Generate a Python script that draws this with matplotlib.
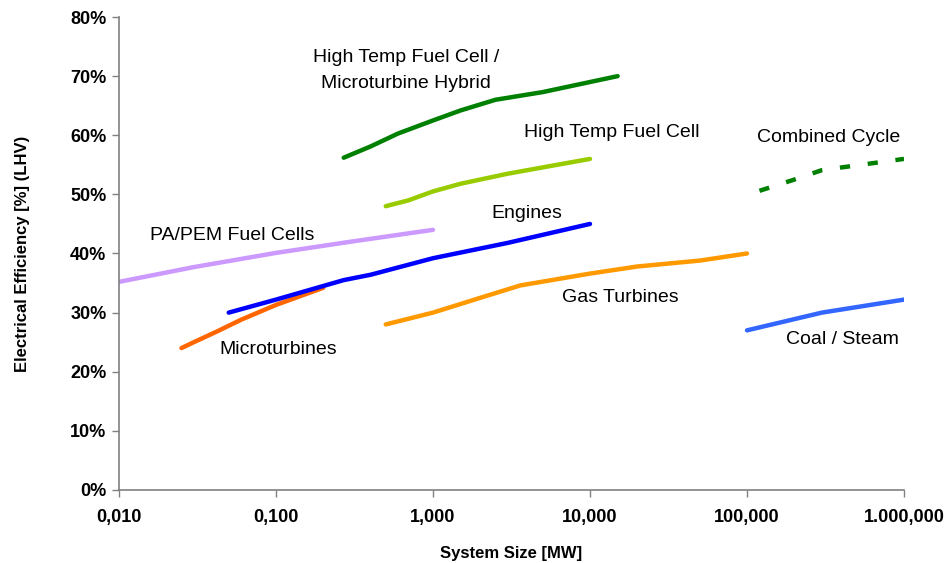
import matplotlib
matplotlib.use("Agg")
from matplotlib import pyplot as plt

plt.rcParams['font.family'] = ['Liberation Sans', 'DejaVu Sans']

# --- data (MW, % LHV) ---
pem_x = [0.01, 0.03, 0.1, 0.3, 1.0]
pem_y = [35.2, 37.7, 40.1, 42.0, 44.0]

micro_x = [0.025, 0.03, 0.042, 0.06, 0.1, 0.2]
micro_y = [24.0, 25.0, 26.8, 28.8, 31.3, 34.2]

eng_x = [0.05, 0.1, 0.27, 0.4, 1.0, 3.0, 10.0]
eng_y = [30.0, 32.2, 35.5, 36.4, 39.2, 41.8, 45.0]

gt_x = [0.5, 1.0, 2.0, 3.6, 10.0, 20.0, 50.0, 100.0]
gt_y = [28.0, 30.0, 32.5, 34.6, 36.6, 37.8, 38.8, 40.0]

htfc_x = [0.5, 0.7, 1.0, 1.5, 3.0, 10.0]
htfc_y = [48.0, 49.0, 50.5, 51.8, 53.5, 56.0]

hyb_x = [0.27, 0.4, 0.6, 1.0, 1.5, 2.5, 5.0, 15.0]
hyb_y = [56.2, 58.1, 60.3, 62.5, 64.2, 66.0, 67.3, 70.0]

cc_x = [120, 200, 300, 1000]
cc_y = [50.6, 52.5, 54.1, 56.0]

coal_x = [100, 300, 1000]
coal_y = [27.0, 30.0, 32.2]

xticks = [0.01, 0.1, 1, 10, 100, 1000]
xtick_labels = ['0,010', '0,100', '1,000', '10,000', '100,000', '1.000,000']
yticks = [0, 10, 20, 30, 40, 50, 60, 70, 80]

fig = plt.figure(figsize=(9.48, 5.63), dpi=100)
ax = fig.add_axes([0.1255, 0.1297, 0.8281, 0.8401])

lw = 3.2
ax.plot(pem_x, pem_y, color='#CC99FF', lw=lw, solid_capstyle='round')
ax.plot(micro_x, micro_y, color='#FF6600', lw=lw, solid_capstyle='round')
ax.plot(eng_x, eng_y, color='#0000FF', lw=lw, solid_capstyle='round')
ax.plot(gt_x, gt_y, color='#FF9900', lw=lw, solid_capstyle='round')
ax.plot(htfc_x, htfc_y, color='#99CC00', lw=lw, solid_capstyle='round')
ax.plot(hyb_x, hyb_y, color='#008000', lw=lw, solid_capstyle='round')
ax.plot(cc_x, cc_y, color='#008000', lw=lw, ls=(0, (2.3, 4.0)))
ax.plot(coal_x, coal_y, color='#3366FF', lw=lw, solid_capstyle='round')

# labels
fs = 14
ax.text(0.67, 73.1, 'High Temp Fuel Cell /', ha='center', va='center', fontsize=fs)
ax.text(0.67, 68.8, 'Microturbine Hybrid', ha='center', va='center', fontsize=fs)
ax.text(13.8, 60.4, 'High Temp Fuel Cell', ha='center', va='center', fontsize=fs)
ax.text(333, 59.7, 'Combined Cycle', ha='center', va='center', fontsize=fs)
ax.text(3.97, 46.7, 'Engines', ha='center', va='center', fontsize=fs)
ax.text(0.0525, 43.1, 'PA/PEM Fuel Cells', ha='center', va='center', fontsize=fs)
ax.text(15.7, 32.5, 'Gas Turbines', ha='center', va='center', fontsize=fs)
ax.text(403, 25.5, 'Coal / Steam', ha='center', va='center', fontsize=fs)
ax.text(0.103, 23.8, 'Microturbines', ha='center', va='center', fontsize=fs)

ax.set_xscale('log')
ax.set_xlim(0.01, 1000)
ax.set_ylim(0, 80)
ax.set_xticks(xticks)
ax.set_xticklabels(xtick_labels)
ax.minorticks_off()
ax.set_yticks(yticks)
ax.set_yticklabels([f'{v}%' for v in yticks])

for s in ['top', 'right']:
    ax.spines[s].set_visible(False)
for s in ['left', 'bottom']:
    ax.spines[s].set_color('#808080')
    ax.spines[s].set_linewidth(1.2)
ax.tick_params(axis='both', direction='out', length=5, width=1, color='#808080')
ax.tick_params(axis='y', pad=4)
ax.tick_params(axis='x', pad=9)

for t in ax.get_yticklabels():
    t.set_fontweight('bold')
    t.set_fontsize(13)
for t in ax.get_xticklabels():
    t.set_fontweight('bold')
    t.set_fontsize(13)

ax.set_ylabel('Electrical Efficiency [%] (LHV)', fontsize=12, fontweight='bold', labelpad=29)
ax.set_xlabel('System Size [MW]', fontsize=12, fontweight='bold', labelpad=14)

fig.savefig('out.png', dpi=100)
